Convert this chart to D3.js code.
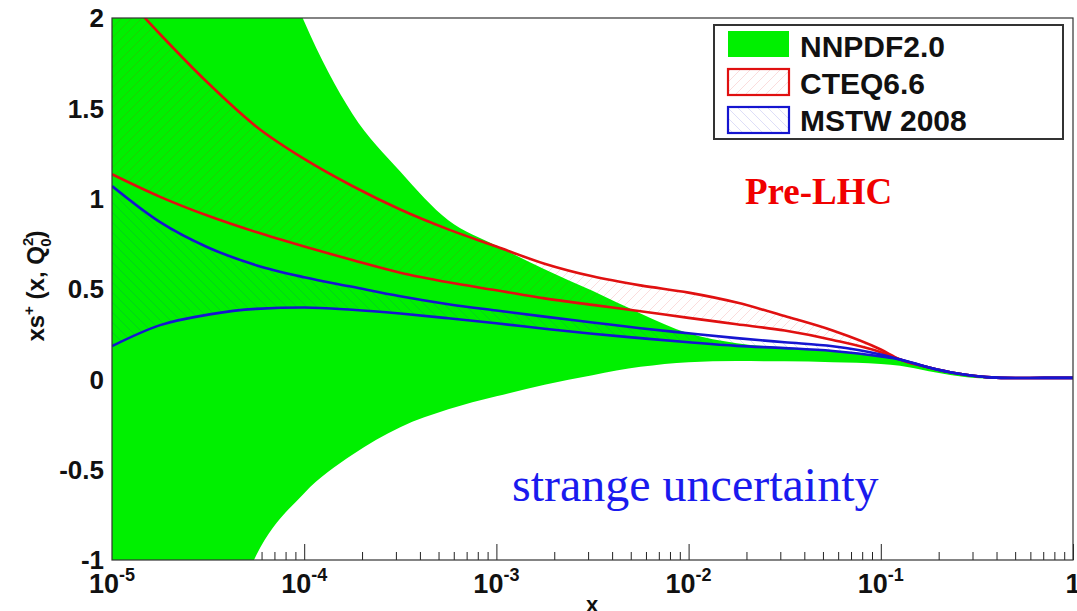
<!DOCTYPE html>
<html>
<head>
<meta charset="utf-8">
<script src="https://cdn.jsdelivr.net/npm/d3@7"></script>
<style>
	body { margin: 0; background: #fff; }
	svg { display: block; font-family: "Liberation Sans", Arial, sans-serif; }
</style>
</head>
<body>
<svg id="strange-chart"></svg>
<script>
// x grid (quarter decades, finer above 0.1)
var xValues = [1e-5, 1.78e-5, 3.16e-5, 5.62e-5, 1e-4, 1.78e-4, 3.16e-4, 5.62e-4,
	1e-3, 1.78e-3, 3.16e-3, 5.62e-3, 1e-2, 1.78e-2, 3.16e-2, 5.62e-2,
	0.1, 0.126, 0.178, 0.251, 0.355, 0.501, 0.708, 1];

var nnpdfHigh = [6.0, 4.7, 3.6, 2.7, 1.98, 1.47, 1.15, 0.88, 0.74, 0.61, 0.49, 0.365,
	0.255, 0.20, 0.175, 0.155, 0.128, 0.105, 0.066, 0.032, 0.012, 0.006, 0.006, 0.007];
var nnpdfLow = [-3.5, -2.5, -1.7, -0.975, -0.63, -0.418, -0.265, -0.166, -0.094, -0.03, 0.023, 0.069,
	0.095, 0.101, 0.10, 0.095, 0.085, 0.075, 0.045, 0.018, 0.004, 0.002, 0.004, 0.005];

var cteqHigh = [2.2, 1.91, 1.64, 1.40, 1.22, 1.07, 0.94, 0.83, 0.735, 0.64, 0.57, 0.52,
	0.48, 0.425, 0.35, 0.27, 0.165, 0.11, 0.066, 0.032, 0.012, 0.007, 0.008, 0.008];
var cteqLow = [1.135, 1.01, 0.905, 0.815, 0.735, 0.66, 0.59, 0.537, 0.493, 0.448, 0.412, 0.377,
	0.34, 0.305, 0.27, 0.218, 0.15, 0.11, 0.066, 0.032, 0.012, 0.007, 0.008, 0.008];

var mstwHigh = [1.07, 0.87, 0.73, 0.632, 0.565, 0.512, 0.46, 0.416, 0.381, 0.347, 0.315, 0.283,
	0.255, 0.228, 0.205, 0.183, 0.137, 0.11, 0.066, 0.032, 0.012, 0.007, 0.008, 0.008];
var mstwLow = [0.184, 0.30, 0.358, 0.39, 0.398, 0.385, 0.364, 0.338, 0.31, 0.28, 0.252, 0.228,
	0.205, 0.185, 0.173, 0.157, 0.127, 0.11, 0.066, 0.032, 0.012, 0.007, 0.008, 0.008];

var yTicks = [2, 1.5, 1, 0.5, 0, -0.5, -1];
var xDecades = [1e-5, 1e-4, 1e-3, 1e-2, 1e-1, 1];
var xDecadeExp = ['-5', '-4', '-3', '-2', '-1', ''];
var legendLabels = ['NNPDF2.0', 'CTEQ6.6', 'MSTW 2008'];

var draw = function() {
	var width = 1077,
	    height = 611,
	    pLeft = 112,
	    pRight = 1073,
	    pTop = 18,
	    pBottom = 560;

	var green = '#00f000',
	    red = '#e01010',
	    blue = '#1515d0',
	    serif = '"Liberation Serif", "Times New Roman", serif';

	var svg = d3.select('#strange-chart')
		.attr('width', width)
		.attr('height', height);

	var x = d3.scaleLog().domain([1e-5, 1]).range([pLeft, pRight]);
	var y = d3.scaleLinear().domain([-1, 2]).range([pBottom, pTop]);

	var defs = svg.append('defs');

	defs.append('clipPath')
		.attr('id', 'plot-clip')
		.append('rect')
		.attr('x', pLeft)
		.attr('y', pTop)
		.attr('width', pRight - pLeft)
		.attr('height', pBottom - pTop);

	var hatch = function(id, color, d) {
		var p = defs.append('pattern')
			.attr('id', id)
			.attr('patternUnits', 'userSpaceOnUse')
			.attr('width', 10)
			.attr('height', 10);
		p.append('path')
			.attr('d', d)
			.attr('stroke', color)
			.attr('stroke-opacity', 0.14)
			.attr('stroke-width', 1)
			.attr('fill', 'none');
	}
	hatch('hatch-red', red, 'M-1,1 l2,-2 M0,10 l10,-10 M9,11 l2,-2');
	hatch('hatch-blue', blue, 'M-1,9 l2,2 M0,0 l10,10 M9,-1 l2,2');

	// bottom ticks sit under the band
	var minorTicks = x.ticks().filter(d => xDecades.indexOf(d) < 0);

	svg.append('g')
		.attr('transform', `translate(0,${pBottom})`)
		.call(d3.axisBottom(x).tickValues(minorTicks).tickSize(-8).tickFormat(''))
		.call(g => g.select('.domain').remove())
		.selectAll('line').attr('stroke', '#222');

	svg.append('g')
		.attr('transform', `translate(0,${pBottom})`)
		.call(d3.axisBottom(x).tickValues(xDecades).tickSize(-16).tickFormat(''))
		.call(g => g.select('.domain').remove())
		.selectAll('line').attr('stroke', '#222');

	var plot = svg.append('g').attr('clip-path', 'url(#plot-clip)');

	var band = (hi, lo) => d3.area()
		.x((d, i) => x(xValues[i]))
		.y0((d, i) => y(lo[i]))
		.y1((d, i) => y(hi[i]))
		.curve(d3.curveMonotoneX)(xValues);

	var line = vals => d3.line()
		.x((d, i) => x(xValues[i]))
		.y((d, i) => y(vals[i]))
		.curve(d3.curveMonotoneX)(xValues);

	plot.append('path')
		.attr('d', band(nnpdfHigh, nnpdfLow))
		.attr('fill', green);

	plot.append('path')
		.attr('d', band(cteqHigh, cteqLow))
		.attr('fill', 'url(#hatch-red)');

	plot.append('path')
		.attr('d', band(mstwHigh, mstwLow))
		.attr('fill', 'url(#hatch-blue)');

	[cteqHigh, cteqLow].forEach(vals => {
		plot.append('path')
			.attr('d', line(vals))
			.attr('fill', 'none')
			.attr('stroke', red)
			.attr('stroke-width', 2.6);
	});

	[mstwHigh, mstwLow].forEach(vals => {
		plot.append('path')
			.attr('d', line(vals))
			.attr('fill', 'none')
			.attr('stroke', blue)
			.attr('stroke-width', 2.6);
	});

	// frame
	svg.append('rect')
		.attr('x', pLeft)
		.attr('y', pTop)
		.attr('width', pRight - pLeft)
		.attr('height', pBottom - pTop)
		.attr('fill', 'none')
		.attr('stroke', '#333')
		.attr('stroke-width', 1.2);

	svg.selectAll('.y-label')
		.data(yTicks)
		.enter()
		.append('text')
		.attr('class', 'y-label')
		.attr('x', 104)
		.attr('y', d => y(d))
		.attr('dy', '0.36em')
		.attr('text-anchor', 'end')
		.attr('font-size', 26)
		.attr('font-weight', 'bold')
		.attr('fill', '#111')
		.text(d => d);

	var xl = svg.selectAll('.x-label')
		.data(xDecades)
		.enter()
		.append('text')
		.attr('class', 'x-label')
		.attr('x', d => x(d))
		.attr('y', 593)
		.attr('text-anchor', 'middle')
		.attr('font-weight', 'bold')
		.attr('fill', '#111');

	xl.append('tspan')
		.attr('font-size', 27)
		.text((d, i) => xDecadeExp[i] ? '10' : '1');
	xl.append('tspan')
		.attr('font-size', 18)
		.attr('dy', -12)
		.text((d, i) => xDecadeExp[i]);

	svg.append('text')
		.attr('x', 592)
		.attr('y', 612)
		.attr('text-anchor', 'middle')
		.attr('font-size', 22)
		.attr('font-weight', 'bold')
		.attr('fill', '#111')
		.text('x');

	var yt = svg.append('text')
		.attr('transform', 'translate(44,286) rotate(-90)')
		.attr('text-anchor', 'middle')
		.attr('font-size', 24)
		.attr('font-weight', 'bold')
		.attr('fill', '#111');
	yt.append('tspan').text('xs');
	yt.append('tspan').attr('font-size', 15).attr('dy', -10).text('+');
	yt.append('tspan').attr('dy', 10).text(' (x, Q');
	yt.append('tspan').attr('font-size', 15).attr('dy', -11).text('2');
	yt.append('tspan').attr('font-size', 15).attr('dx', -9).attr('dy', 18).text('0');
	yt.append('tspan').attr('dy', -7).text(')');

	// legend
	var legend = svg.append('g');

	legend.append('rect')
		.attr('x', 714)
		.attr('y', 25)
		.attr('width', 349)
		.attr('height', 114)
		.attr('fill', '#fff')
		.attr('stroke', '#333')
		.attr('stroke-width', 2);

	var swatchFill = [green, 'url(#hatch-red)', 'url(#hatch-blue)'];
	var swatchStroke = ['none', red, blue];

	legend.selectAll('.swatch')
		.data(legendLabels)
		.enter()
		.append('rect')
		.attr('class', 'swatch')
		.attr('x', 728)
		.attr('y', (d, i) => 31 + i * 38)
		.attr('width', 61)
		.attr('height', 26)
		.attr('fill', (d, i) => swatchFill[i])
		.attr('stroke', (d, i) => swatchStroke[i])
		.attr('stroke-width', 2.2);

	legend.selectAll('.legend-text')
		.data(legendLabels)
		.enter()
		.append('text')
		.attr('class', 'legend-text')
		.attr('x', 800)
		.attr('y', (d, i) => 57 + i * 37)
		.attr('font-size', 30)
		.attr('font-weight', 'bold')
		.attr('fill', '#111')
		.text(d => d);

	svg.append('text')
		.attr('x', 745)
		.attr('y', 204)
		.attr('font-family', serif)
		.attr('font-size', 37)
		.attr('font-weight', 'bold')
		.attr('fill', '#f00000')
		.text('Pre-LHC');

	svg.append('text')
		.attr('x', 512)
		.attr('y', 501)
		.attr('font-family', serif)
		.attr('font-size', 48)
		.attr('fill', '#1a1aee')
		.text('strange uncertainty');
}

draw();
</script>
</body>
</html>
